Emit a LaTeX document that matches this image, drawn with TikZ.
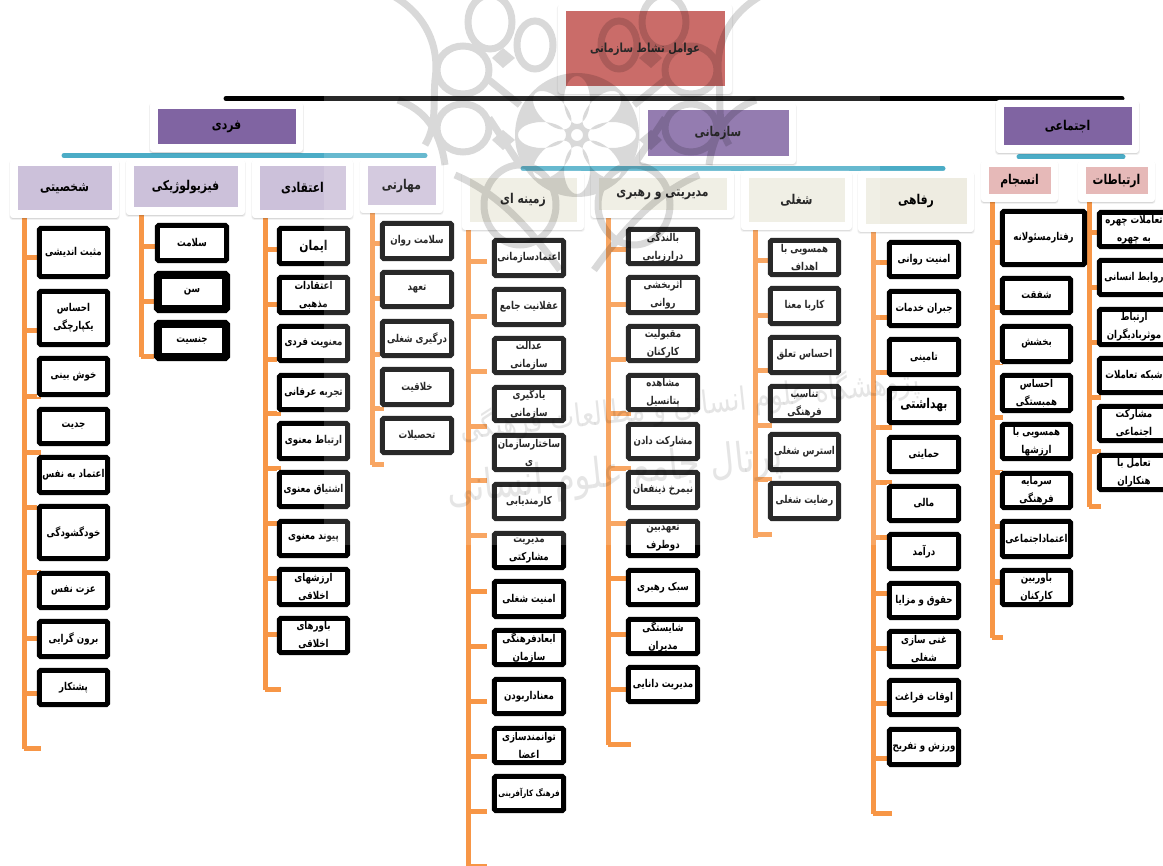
\documentclass[tikz,border=0pt]{standalone}
\usepackage{fontspec}
\usetikzlibrary{shadows,backgrounds}
\TeXXeTstate=1
\newfontfamily\fafont[Script=Arabic,FakeStretch=0.8]{DejaVu Sans}
\newcommand{\fr}[1]{\beginR #1\endR}
\definecolor{tierone}{HTML}{8064A2}
\definecolor{toprose}{HTML}{C0504D}
\definecolor{lilac}{HTML}{CCC1DA}
\definecolor{cream}{HTML}{EEECE1}
\definecolor{rosy}{HTML}{E6B9B8}
\definecolor{tealbar}{HTML}{4BACC6}
\definecolor{trunkor}{HTML}{F79646}
\tikzset{
  leaf/.style={fill=white,inner sep=0pt,align=center,text=black,font=\fafont\bfseries\fontsize{10.8}{18}\selectfont},
  leafline/.style={draw=black,rounded corners=1.5pt},
  cardshell/.style={fill=white,rounded corners=3pt,inner sep=0pt,
    drop shadow={shadow xshift=0pt,shadow yshift=-1.6pt,shadow scale=1.012,opacity=.06,fill=black},
    drop shadow={shadow xshift=0pt,shadow yshift=-1pt,opacity=.1,fill=black}},
  cardcore/.style={inner sep=0pt,align=center,text=black,font=\fafont\bfseries\fontsize{13.5}{16}\selectfont},
  trunk/.style={draw=trunkor,line width=5pt,line cap=rect},
  twig/.style={draw=trunkor,line width=5pt},
  barline/.style={line width=5pt,line cap=round},
}
\newcommand{\leafbox}[7]{%
  \node[leaf,minimum width={(#3-#2)*1pt},minimum height={(#5-#4)*1pt}] (#1) at ({(#2+#3)/2},{(#4+#5)/2}) {#7};
  \pgfmathsetmacro\hbw{#6/2}
  \draw[leafline,line width=#6pt] ([shift={(\hbw,\hbw)}]#1.north west) rectangle ([shift={(-\hbw,-\hbw)}]#1.south east);
}
\newcommand{\cardbox}[7]{%
  \node[cardshell,minimum width={(#3-#2)*1pt},minimum height={(#5-#4)*1pt}] (#1shell) at ({(#2+#3)/2},{(#4+#5)/2}) {};
  \node[cardcore,fill=#6,minimum width={(#3-#2-15)*1pt},minimum height={(#5-#4-15)*1pt}] (#1) at ({(#2+#3)/2},{(#4+#5)/2}) {#7};
}
\newcommand{\trunkline}[6]{%
  \begin{pgfonlayer}{background}
  \coordinate (#1top) at (#2,0 |- #1shell.south);
  \coordinate (#1bot) at (#2,#3);
  \draw[trunk] (#1top) -- (#1bot);
  \foreach \ty [count=\ti] in {#6} {
    \coordinate (#1a\ti) at (#2,\ty);
    \coordinate (#1b\ti) at (#4,\ty);
    \draw[twig] (#1a\ti) -- (#1b\ti);
  }
  \end{pgfonlayer}
}
\begin{document}
\begin{tikzpicture}[x=1pt,y=-1pt]
\useasboundingbox (0,0) rectangle (1163,866);

% cards
\cardbox{root}{558}{732}{4}{94}{toprose}{\fontsize{12.5}{15}\selectfont\fr{عوامل نشاط سازمانی}}
\cardbox{fardi}{150}{303}{102}{152}{tierone}{\fr{فردی}}
\cardbox{sazmani}{640}{796}{103}{164}{tierone}{\fr{سازمانی}}
\cardbox{ejtemai}{996}{1139}{100}{153}{tierone}{\fr{اجتماعی}}

\cardbox{shakh}{10}{119}{159}{218}{lilac}{\fr{شخصیتی}}
\cardbox{fiz}{126}{245}{159}{215}{lilac}{\fr{فیزیولوژیکی}}
\cardbox{eteq}{252}{353}{159}{218}{lilac}{\fr{اعتقادی}}
\cardbox{mahar}{360}{443}{159}{213}{lilac}{\fr{مهارتی}}

\cardbox{zamine}{462}{584}{171}{230}{cream}{\fr{زمینه ای}}
\cardbox{modir}{591}{734}{171}{218}{cream}{\fr{مدیریتی و رهبری}}
\cardbox{shoghl}{741}{852}{171}{230}{cream}{\fr{شغلی}}
\cardbox{refah}{858}{974}{171}{232}{cream}{\fr{رفاهی}}

\cardbox{ensej}{981}{1058}{160}{202}{rosy}{\fr{انسجام}}
\cardbox{ertab}{1078}{1155}{160}{202}{rosy}{\fr{ارتباطات}}

% bars
\begin{pgfonlayer}{background}
\coordinate (mainL) at (226,98.5); \coordinate (mainR) at (1122,98.5);
\draw[barline,draw=black] (mainL) -- (mainR);
\coordinate (fardiL) at (64,155.5); \coordinate (fardiR) at (425,155.5);
\draw[barline,draw=tealbar] (fardiL) -- (fardiR);
\coordinate (sazL) at (523,168.5); \coordinate (sazR) at (943,168.5);
\draw[barline,draw=tealbar] (sazL) -- (sazR);
\coordinate (ejtL) at (1019,157); \coordinate (ejtR) at (1123,157);
\draw[barline,draw=tealbar] (ejtL) -- (ejtR);
\end{pgfonlayer}

% trunks
\trunkline{shakh}{24}{746}{41}{}{258,331,397,453,508,573,638,693,748}
\trunkline{fiz}{141}{355}{155}{}{247,302,357}
\trunkline{eteq}{265}{687}{281}{}{250,305,360,414,469,524,579,634,689}
\trunkline{mahar}{372}{463}{384}{}{244,299,355,409,465}
\trunkline{zamine}{468}{880}{487}{}{262,317,372,427,481,536,591,646,701,756,811,866}
\trunkline{modir}{608}{742}{631}{}{250,305,360,414,469,524,579,634,689,744}
\trunkline{shoghl}{755}{536}{772}{}{261,316,371,426,480,535}
\trunkline{refah}{873}{811}{892}{}{263,318,373,428,483,538,593,648,703,758,813}
\trunkline{ensej}{992}{635}{1003}{}{243,308,363,418,473,527,582,637}
\trunkline{ertab}{1089}{505}{1101}{}{233,288,343,398,452,507}

% shakhsiati
\leafbox{a1}{37}{110}{226}{279}{5}{\fr{مثبت اندیشی}}
\leafbox{a2}{37}{110}{289}{347}{5}{\fr{احساس}\\\fr{یکپارچگی}}
\leafbox{a3}{37}{110}{356}{397}{5}{\fr{خوش بینی}}
\leafbox{a4}{37}{110}{407}{446}{5}{\fr{جدیت}}
\leafbox{a5}{37}{110}{455}{495}{5}{\fr{اعتماد به نفس}}
\leafbox{a6}{37}{110}{504}{561}{5}{\fr{خودگشودگی}}
\leafbox{a7}{37}{110}{571}{610}{5}{\fr{عزت نفس}}
\leafbox{a8}{37}{110}{619}{659}{5}{\fr{برون گرایی}}
\leafbox{a9}{37}{110}{668}{707}{5}{\fr{پشتکار}}
% fiziologic
\leafbox{b1}{155}{229}{223}{263}{5}{\fr{سلامت}}
\leafbox{b2}{154}{230}{271}{313}{8}{\fr{سن}}
\leafbox{b3}{154}{230}{320}{361}{8}{\fr{جنسیت}}
% eteqadi
\leafbox{c1}{277}{350}{226}{266}{5}{\fontsize{13.5}{18}\selectfont\fr{ایمان}}
\leafbox{c2}{277}{350}{275}{315}{5}{\fr{اعتقادات}\\\fr{مذهبی}}
\leafbox{c3}{277}{350}{324}{363}{5}{\fr{معنویت فردی}}
\leafbox{c4}{277}{350}{373}{412}{5}{\fr{تجربه عرفانی}}
\leafbox{c5}{277}{350}{421}{461}{5}{\fr{ارتباط معنوی}}
\leafbox{c6}{277}{350}{470}{509}{5}{\fr{اشتیاق معنوی}}
\leafbox{c7}{277}{350}{519}{558}{5}{\fr{پیوند معنوی}}
\leafbox{c8}{277}{350}{567}{607}{5}{\fr{ارزشهای}\\\fr{اخلاقی}}
\leafbox{c9}{277}{350}{616}{655}{5}{\fr{باورهای}\\\fr{اخلاقی}}
% maharati
\leafbox{d1}{380}{454}{221}{261}{5}{\fr{سلامت روان}}
\leafbox{d2}{380}{454}{270}{309}{5}{\fr{تعهد}}
\leafbox{d3}{380}{454}{319}{358}{5}{\fr{درگیری شغلی}}
\leafbox{d4}{380}{454}{367}{407}{5}{\fr{خلاقیت}}
\leafbox{d5}{380}{454}{416}{455}{5}{\fr{تحصیلات}}
% zamine
\leafbox{e1}{492}{566}{238}{278}{5}{\fr{اعتمادسازمانی}}
\leafbox{e2}{492}{566}{287}{327}{5}{\fr{عقلانیت جامع}}
\leafbox{e3}{492}{566}{336}{375}{5}{\fr{عدالت}\\\fr{سازمانی}}
\leafbox{e4}{492}{566}{385}{423}{5}{\fr{یادگیری}\\\fr{سازمانی}}
\leafbox{e5}{492}{566}{433}{472}{5}{\fr{ساختارسازمان}\\\fr{ی}}
\leafbox{e6}{492}{566}{482}{521}{5}{\fr{کارمندیابی}}
\leafbox{e7}{492}{566}{531}{570}{5}{\fr{مدیریت}\\\fr{مشارکتی}}
\leafbox{e8}{492}{566}{579}{619}{5}{\fr{امنیت شغلی}}
\leafbox{e9}{492}{566}{628}{667}{5}{\fr{ابعادفرهنگی}\\\fr{سازمان}}
\leafbox{e10}{492}{566}{677}{716}{5}{\fr{معناداربودن}}
\leafbox{e11}{492}{566}{726}{765}{5}{\fr{توانمندسازی}\\\fr{اعضا}}
\leafbox{e12}{492}{566}{774}{813}{5}{\fontsize{8.8}{18}\selectfont\fr{فرهنگ کارآفرینی}}
% modiriati
\leafbox{f1}{626}{700}{227}{266}{5}{\fr{بالندگی}\\\fr{درارزیابی}}
\leafbox{f2}{626}{700}{275}{315}{5}{\fr{اثربخشی}\\\fr{روانی}}
\leafbox{f3}{626}{700}{324}{363}{5}{\fr{مقبولیت}\\\fr{کارکنان}}
\leafbox{f4}{626}{700}{373}{412}{5}{\fr{مشاهده}\\\fr{پتانسیل}}
\leafbox{f5}{626}{700}{422}{461}{5}{\fr{مشارکت دادن}}
\leafbox{f6}{626}{700}{470}{510}{5}{\fr{نیمرخ ذینفعان}}
\leafbox{f7}{626}{700}{519}{558}{5}{\fr{تعهدبین}\\\fr{دوطرف}}
\leafbox{f8}{626}{700}{568}{607}{5}{\fr{سبک رهبری}}
\leafbox{f9}{626}{700}{617}{656}{5}{\fr{شایستگی}\\\fr{مدیران}}
\leafbox{f10}{626}{700}{665}{704}{5}{\fr{مدیریت دانایی}}
% shoghli
\leafbox{g1}{768}{841}{238}{277}{5}{\fr{همسویی با}\\\fr{اهداف}}
\leafbox{g2}{768}{841}{286}{326}{5}{\fr{کاربا معنا}}
\leafbox{g3}{768}{841}{335}{375}{5}{\fr{احساس تعلق}}
\leafbox{g4}{768}{841}{384}{423}{5}{\fr{تناسب}\\\fr{فرهنگی}}
\leafbox{g5}{768}{841}{432}{472}{5}{\fr{استرس شغلی}}
\leafbox{g6}{768}{841}{481}{521}{5}{\fr{رضایت شغلی}}
% refahi
\leafbox{h1}{887}{961}{240}{279}{5}{\fr{امنیت روانی}}
\leafbox{h2}{887}{961}{289}{328}{5}{\fr{جبران خدمات}}
\leafbox{h3}{887}{961}{337}{377}{5}{\fr{تامینی}}
\leafbox{h4}{887}{961}{386}{425}{5}{\fontsize{13.5}{18}\selectfont\fr{بهداشتی}}
\leafbox{h5}{887}{961}{435}{474}{5}{\fr{حمایتی}}
\leafbox{h6}{887}{961}{484}{523}{5}{\fr{مالی}}
\leafbox{h7}{887}{961}{532}{571}{5}{\fr{درآمد}}
\leafbox{h8}{887}{961}{581}{620}{5}{\fr{حقوق و مزایا}}
\leafbox{h9}{887}{961}{629}{669}{5}{\fr{غنی سازی}\\\fr{شغلی}}
\leafbox{h10}{887}{961}{678}{717}{5}{\fr{اوقات فراغت}}
\leafbox{h11}{887}{961}{727}{767}{5}{\fr{ورزش و تفریح}}
% ensejam
\leafbox{i1}{1000}{1087}{209}{267}{5}{\fr{رفتارمسئولانه}}
\leafbox{i2}{1000}{1073}{276}{315}{5}{\fr{شفقت}}
\leafbox{i3}{1000}{1073}{324}{364}{5}{\fr{بخشش}}
\leafbox{i4}{1000}{1073}{373}{413}{5}{\fr{احساس}\\\fr{همبستگی}}
\leafbox{i5}{1000}{1073}{422}{461}{5}{\fr{همسویی با}\\\fr{ارزشها}}
\leafbox{i6}{1000}{1073}{471}{510}{5}{\fr{سرمایه}\\\fr{فرهنگی}}
\leafbox{i7}{1000}{1073}{519}{559}{5}{\fr{اعتماداجتماعی}}
\leafbox{i8}{1000}{1073}{568}{607}{5}{\fr{باوربین}\\\fr{کارکنان}}
% ertebatat
\leafbox{j1}{1097}{1171}{210}{249}{5}{\fr{تعاملات چهره}\\\fr{به چهره}}
\leafbox{j2}{1097}{1171}{258}{297}{5}{\fr{روابط انسانی}}
\leafbox{j3}{1097}{1171}{307}{347}{5}{\fr{ارتباط}\\\fr{موثربادیگران}}
\leafbox{j4}{1097}{1171}{356}{395}{5}{\fr{شبکه تعاملات}}
\leafbox{j5}{1097}{1171}{404}{443}{5}{\fr{مشارکت}\\\fr{اجتماعی}}
\leafbox{j6}{1097}{1171}{453}{492}{5}{\fr{تعامل با}\\\fr{هنکاران}}

% translucent watermark over the whole diagram
\fill[white,opacity=.16] (324,0) rectangle (880,545);
\begin{scope}[transparency group,opacity=.15]
\foreach \mirror in {1,-1} {
  \begin{scope}[shift={({\mirror==1?0:1154},0)},xscale=\mirror,draw=black,line width=7pt]
    \draw (395,-3) .. controls (425,15) and (440,45) .. (435,80) .. controls (433,105) and (437,125) .. (425,145);
    \draw (398,100) .. controls (425,110) and (440,130) .. (445,165);
    \draw (463,70) ellipse (26 and 24);
    \draw (463,128) ellipse (26 and 24);
    \draw (490,22) ellipse (22 and 27);
    \draw (535,45) ellipse (18 and 24);
    \draw (489,80) -- (520,105);
    \draw (489,118) -- (520,165);
    \fill (503,48) -- (515,58) -- (503,68) -- (492,58) -- cycle;
    \fill (503,130) -- (515,140) -- (503,150) -- (492,140) -- cycle;
    \draw (520,205) ellipse (36 and 40);
    \draw (455,175) .. controls (490,190) and (520,215) .. (560,270);
  \end{scope}
}
\fill[black,even odd rule] (577,135) circle (62)
  \foreach \ang in {0,45,...,315} { [rotate around={\ang:(577,135)}] (612,135) ellipse (24 and 13) }
  (577,135) circle (6);
\end{scope}
\node[opacity=.1,rotate=6,text=black,font=\fafont\fontsize{32}{36}\selectfont] (wmA) at (690,405) {\fr{پژوهشگاه علوم انسانی و مطالعات فرهنگی}};
\node[opacity=.1,rotate=6,text=black,font=\fafont\fontsize{42}{46}\selectfont] (wmB) at (615,475) {\fr{پرتال جامع علوم انسانی}};
\end{tikzpicture}
\end{document}
